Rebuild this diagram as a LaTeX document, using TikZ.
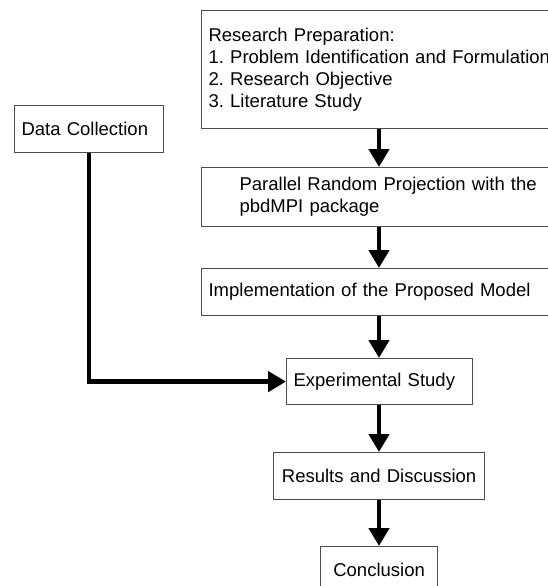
\documentclass[tikz,border=0pt]{standalone}
\usepackage{fontspec}
\setmainfont{Liberation Sans}
\usetikzlibrary{arrows.meta}
\frenchspacing

\begin{document}
\begin{tikzpicture}[x=1pt,y=-1pt,
    box/.style={draw=black!70,line width=1.2pt,anchor=north west,inner xsep=7pt,
      inner ysep=0pt,font=\fontsize{18.5}{22}\selectfont,align=left},
    flow/.style={line width=4.5pt,-{Triangle[width=20pt,length=18pt]}}]
    \useasboundingbox (0,0) rectangle (548,586);
    \clip (0,0) rectangle (548,586);
    \node[box,minimum width=420pt,minimum height=118pt,text width=406pt] (prep) at (201,10)
      {Research Preparation:\\1. Problem Identification and Formulation\\2. Research Objective\\3. Literature Study};
    \node[box,minimum width=420pt,minimum height=59pt,text width=420pt,inner xsep=0pt] (prp) at (201,167)
      {\hspace*{38pt}Parallel Random Projection with the\\\hspace*{38pt}pbdMPI package};
    \node[box,minimum width=420pt,minimum height=47pt,text width=406pt] (impl) at (201,268)
      {Implementation of the Proposed Model};
    \node[box,minimum width=186pt,minimum height=46pt,text width=172pt] (exper) at (286,358)
      {Experimental Study};
    \node[box,minimum width=211pt,minimum height=47pt,text width=197pt,align=center] (res) at (273,452)
      {Results and Discussion};
    \node[box,minimum width=117pt,minimum height=46pt,text width=103pt,align=center] (concl) at (320,546)
      {Conclusion};
    \node[box,minimum width=149pt,minimum height=47pt,text width=135pt] (data) at (14,105)
      {Data Collection};
    \coordinate (spine) at (379,0);
    \foreach \a/\b in {prep/prp,prp/impl,impl/exper,exper/res,res/concl}
      \draw[flow] (\a.south -| spine) -- (\b.north -| spine);
    \draw[flow] (data.south) -- (data.south |- exper.west) -- (exper.west);
\end{tikzpicture}
\end{document}
